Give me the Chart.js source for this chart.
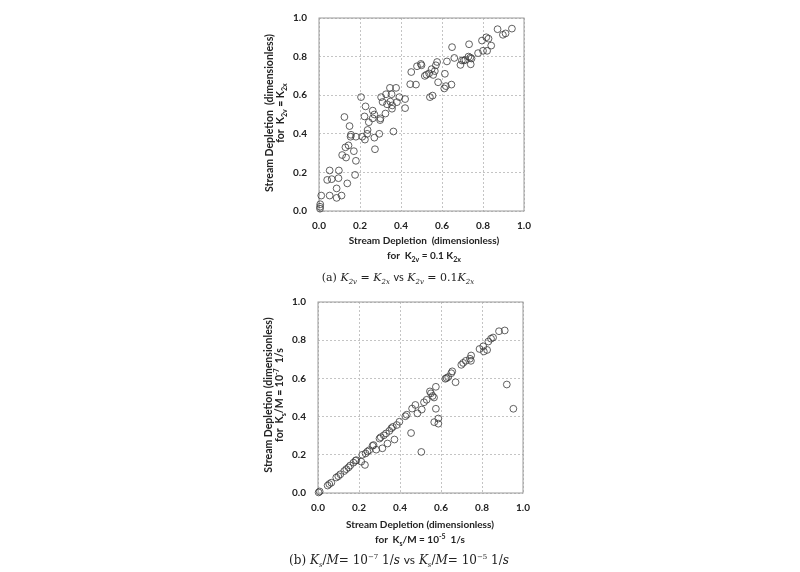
<!DOCTYPE html>
<html>
<head>
<meta charset="utf-8">
<script src="https://cdn.jsdelivr.net/npm/chart.js@4.4.1/dist/chart.umd.min.js"></script>
<style>
  body { margin: 0; background: #fff; width: 800px; height: 572px; position: relative; overflow: hidden; }
  .box { position: absolute; left: 250px; width: 290px; height: 270px; }
  .cap { position: absolute; left: 250px; width: 296px; text-align: center;
         font-family: "DejaVu Serif", "Liberation Serif", serif; font-size: 11px; color: #222; }
  .cap i { font-style: italic; }
  .cap .vs { font-family: Lato, "Liberation Sans", sans-serif; }
  .cap sub, .cap sup { font-size: 7px; }
  .ttl { position: absolute; text-align: center; white-space: pre; color: #222;
         font-family: Lato, "Liberation Sans", sans-serif; font-weight: bold; }
  .ttl sub, .ttl sup { font-size: 7px; line-height: 0; }
  .xt { width: 240px; font-size: 10px; line-height: 15px; }
  .yt { width: 200px; height: 22px; font-size: 10.5px; line-height: 11px; transform: rotate(-90deg); }
</style>
</head>
<body>
<div class="box" style="top:0px"><canvas id="chartA"></canvas></div>
<div class="ttl yt" style="left:175px; top:102px">Stream Depletion  (dimensionless)
for  K<sub>2v</sub> = K<sub>2x</sub></div>
<div class="ttl xt" style="left:304px; top:233px">Stream Depletion  (dimensionless)
for  K<sub>2v</sub> = 0.1 K<sub>2x</sub></div>
<div class="cap" style="top:270px">(a) <i>K</i><sub><i>2v</i></sub> = <i>K</i><sub><i>2x</i></sub> <span class="vs">vs</span> <i>K</i><sub><i>2v</i></sub> = 0.1<i>K</i><sub><i>2x</i></sub></div>

<div class="box" style="top:284px"><canvas id="chartB"></canvas></div>
<div class="ttl yt" style="left:174px; top:384px">Stream Depletion (dimensionless)
for  K<sub>s</sub>/M = 10<sup>-7</sup>  1/s</div>
<div class="ttl xt" style="left:300px; top:517px">Stream Depletion (dimensionless)
for  K<sub>s</sub>/M = 10<sup>-5</sup>  1/s</div>
<div class="cap" style="top:552px; left:244px; width:310px; font-size:12px">(b) <i>K<sub>s</sub></i>/<i>M</i>= 10<sup>&minus;7</sup> 1/<i>s</i> <span class="vs">vs</span> <i>K<sub>s</sub></i>/<i>M</i>= 10<sup>&minus;5</sup> 1/<i>s</i></div>

<script>
"use strict";

// (a) K2v = K2x  vs  K2v = 0.1 K2x
const xA = [0.005, 0.005, 0.006, 0.011, 0.040, 0.052, 0.062, 0.052, 0.086, 0.086,
            0.097, 0.095, 0.110, 0.113, 0.124, 0.129, 0.132, 0.138, 0.144, 0.149,
            0.154, 0.156, 0.170, 0.180, 0.176, 0.180, 0.205, 0.211, 0.224, 0.222,
            0.227, 0.235, 0.237, 0.243, 0.262, 0.262, 0.270, 0.270, 0.273, 0.294,
            0.298, 0.300, 0.303, 0.310, 0.324, 0.327, 0.332, 0.346, 0.348, 0.354,
            0.356, 0.357, 0.363, 0.376, 0.380, 0.392, 0.420, 0.420, 0.450, 0.445,
            0.473, 0.478, 0.497, 0.500, 0.516, 0.524, 0.537, 0.541, 0.554, 0.549,
            0.557, 0.565, 0.570, 0.576, 0.581, 0.611, 0.614, 0.619, 0.624, 0.646,
            0.649, 0.660, 0.690, 0.697, 0.706, 0.714, 0.729, 0.732, 0.738, 0.740,
            0.744, 0.776, 0.795, 0.800, 0.816, 0.820, 0.827, 0.840, 0.871, 0.897,
            0.910, 0.941];
const yA = [0.012, 0.022, 0.035, 0.080, 0.161, 0.210, 0.165, 0.080, 0.117, 0.068,
            0.210, 0.170, 0.080, 0.290, 0.487, 0.330, 0.277, 0.143, 0.340, 0.440,
            0.385, 0.395, 0.310, 0.260, 0.187, 0.385, 0.590, 0.385, 0.370, 0.490,
            0.542, 0.400, 0.420, 0.460, 0.520, 0.480, 0.500, 0.380, 0.320, 0.400,
            0.471, 0.480, 0.590, 0.565, 0.505, 0.605, 0.553, 0.638, 0.567, 0.605,
            0.530, 0.547, 0.412, 0.638, 0.564, 0.590, 0.533, 0.580, 0.720, 0.657,
            0.655, 0.750, 0.762, 0.755, 0.700, 0.706, 0.713, 0.590, 0.598, 0.735,
            0.705, 0.725, 0.755, 0.772, 0.667, 0.635, 0.711, 0.647, 0.775, 0.655,
            0.849, 0.793, 0.757, 0.780, 0.780, 0.783, 0.800, 0.864, 0.795, 0.760,
            0.790, 0.818, 0.883, 0.830, 0.900, 0.830, 0.893, 0.857, 0.942, 0.913,
            0.920, 0.945];

// (b) Ks/M = 1e-7  vs  Ks/M = 1e-5
const xB = [0.003, 0.008, 0.047, 0.055, 0.065, 0.089, 0.099, 0.109, 0.128, 0.138,
            0.149, 0.157, 0.173, 0.183, 0.187, 0.211, 0.229, 0.216, 0.232, 0.241,
            0.250, 0.266, 0.271, 0.284, 0.300, 0.306, 0.314, 0.321, 0.332, 0.339,
            0.348, 0.358, 0.365, 0.373, 0.384, 0.397, 0.426, 0.433, 0.454, 0.459,
            0.475, 0.485, 0.506, 0.504, 0.517, 0.530, 0.546, 0.551, 0.559, 0.566,
            0.575, 0.567, 0.575, 0.587, 0.587, 0.621, 0.627, 0.635, 0.655, 0.650,
            0.671, 0.699, 0.708, 0.721, 0.741, 0.747, 0.746, 0.788, 0.806, 0.809,
            0.825, 0.831, 0.844, 0.854, 0.883, 0.911, 0.921, 0.953];
const yB = [0.003, 0.008, 0.039, 0.047, 0.054, 0.081, 0.088, 0.098, 0.115, 0.125,
            0.134, 0.144, 0.159, 0.169, 0.172, 0.164, 0.147, 0.200, 0.207, 0.217,
            0.224, 0.247, 0.251, 0.227, 0.285, 0.292, 0.234, 0.302, 0.312, 0.259,
            0.325, 0.339, 0.346, 0.280, 0.356, 0.373, 0.402, 0.410, 0.314, 0.442,
            0.461, 0.417, 0.437, 0.215, 0.475, 0.488, 0.532, 0.522, 0.508, 0.500,
            0.556, 0.371, 0.441, 0.390, 0.363, 0.598, 0.602, 0.607, 0.637, 0.627,
            0.580, 0.671, 0.681, 0.692, 0.703, 0.720, 0.692, 0.754, 0.768, 0.741,
            0.749, 0.793, 0.808, 0.814, 0.847, 0.851, 0.568, 0.441];

const tickValues = [0, 0.2, 0.4, 0.6, 0.8, 1.0];

const FONT = "Lato, 'Liberation Sans', sans-serif";

// solid frame round the plot area (top and right edges are solid in the original)
const frame = {
    id: "frame",
    beforeDatasetsDraw(chart) {
        const a = chart.chartArea;
        const ctx = chart.ctx;
        ctx.save();
        ctx.strokeStyle = "#9a9a9a";
        ctx.lineWidth = 1;
        ctx.strokeRect(a.left, a.top, a.right - a.left, a.bottom - a.top);
        ctx.restore();
    }
};

const axis = (isY, size) => ({
    type: "linear",
    min: 0,
    max: 1,
    afterBuildTicks: s => { s.ticks = tickValues.map(v => ({ value: v })); },
    afterFit: s => { if (isY) s.width = size; else s.height = size; },
    grid: { color: "#c4c4c4", drawTicks: false },
    border: { display: false, dash: [2, 2] },
    ticks: {
        padding: isY ? 12 : 9,
        color: "#222",
        font: { family: FONT, size: 10, weight: "bold" },
        callback: v => v.toFixed(1)
    }
});

const makeChart = (id, xs, ys, pad, yw, xh) => {
    const pts = xs.map((x, i) => ({ x: x, y: ys[i] }));
    return new Chart(document.getElementById(id), {
        type: "scatter",
        data: {
            datasets: [{
                data: pts,
                clip: false,
                pointRadius: 3.4,
                pointBorderWidth: 0.8,
                pointBorderColor: "#3a3a3a",
                pointBackgroundColor: "rgba(0,0,0,0)"
            }]
        },
        options: {
            responsive: true,
            maintainAspectRatio: false,
            animation: false,
            layout: { padding: pad },
            plugins: { legend: { display: false }, tooltip: { enabled: false } },
            scales: {
                x: axis(false, xh),
                y: axis(true, yw)
            }
        },
        plugins: [frame]
    });
};

makeChart("chartA", xA, yA, { top: 14, right: 11, left: 0, bottom: 0 }, 69, 59);
makeChart("chartB", xB, yB, { top: 12, right: 17, left: 0, bottom: 0 }, 68, 61);
</script>
</body>
</html>
